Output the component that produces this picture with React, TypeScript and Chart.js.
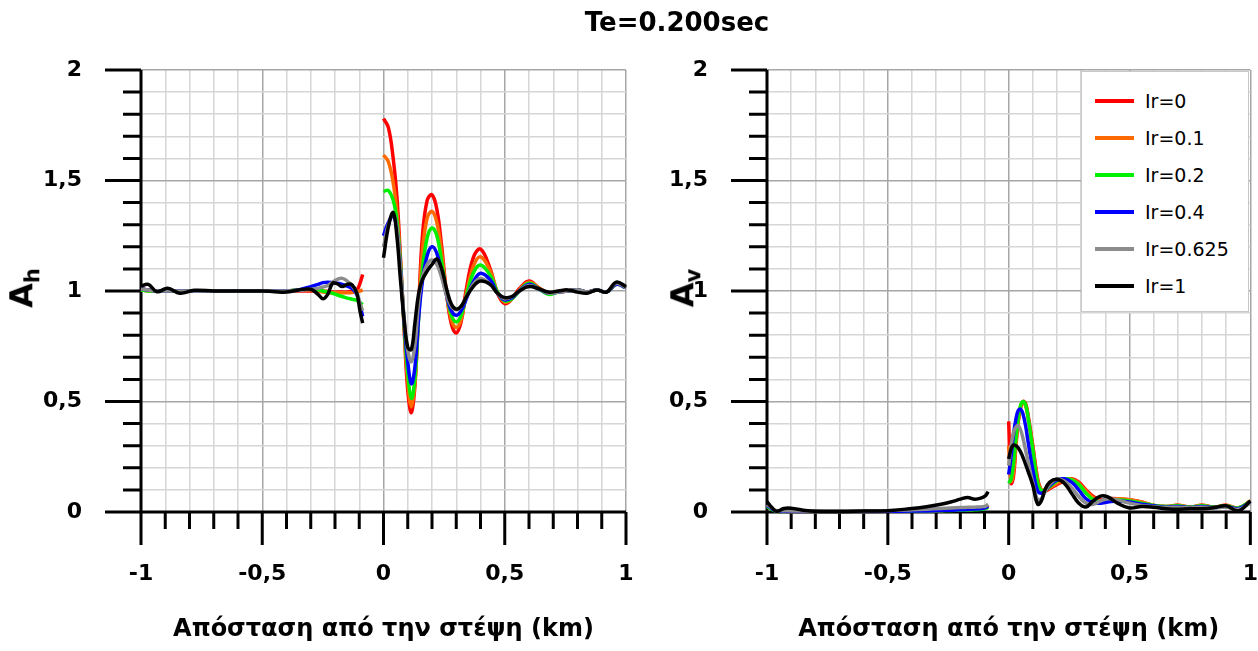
import React, { useEffect, useRef } from 'react';
import { Chart, registerables } from 'chart.js';
Chart.register(...registerables);

const FONT = "'DejaVu Sans', sans-serif";

const seriesLabels = ['Ir=0', 'Ir=0.1', 'Ir=0.2', 'Ir=0.4', 'Ir=0.625', 'Ir=1'];
const seriesColors = ['#ff0000', '#ff6a00', '#00f000', '#0000ff', '#8c8c8c', '#000000'];

const xTickMin = -1;
const xTickMax = 1;
const yTickMin = 0;
const yTickMax = 2;

// ---------- Left plot (Ah) ----------
const ahXNeg = [-1, -0.97, -0.935, -0.89, -0.84, -0.78, -0.7, -0.6, -0.5, -0.45, -0.4, -0.35, -0.3, -0.27, -0.25, -0.23, -0.21, -0.19, -0.17, -0.15, -0.13, -0.11, -0.097, -0.086];
const ahNegIr0 = [1.01, 1.005, 1.0, 1.0, 1.0, 1.0, 1.0, 1.0, 1.0, 1.0, 1.0, 1.0, 1.0, 1.0, 1.0, 0.998, 0.995, 0.995, 0.995, 0.995, 1.0, 1.005, 1.035, 1.075];
const ahNegIr01 = [1.005, 1.0, 1.0, 1.0, 1.0, 1.0, 1.0, 1.0, 1.0, 1.0, 1.0, 1.005, 1.005, 1.0, 0.995, 0.993, 0.992, 0.992, 0.992, 0.992, 0.993, 0.997, 1.0, 1.005];
const ahNegIr02 = [1.005, 1.0, 1.0, 1.0, 1.0, 1.0, 1.0, 1.0, 1.0, 1.0, 1.0, 1.005, 1.01, 1.005, 1.0, 0.995, 0.99, 0.982, 0.975, 0.968, 0.963, 0.958, 0.948, 0.938];
const ahNegIr04 = [1.01, 1.005, 1.0, 1.0, 1.0, 1.0, 1.0, 1.0, 1.0, 1.0, 1.0, 1.005, 1.02, 1.03, 1.038, 1.04, 1.038, 1.035, 1.03, 1.022, 1.012, 0.985, 0.935, 0.885];
const ahNegIr0625 = [1.01, 1.005, 1.0, 1.0, 1.0, 1.0, 1.0, 1.0, 1.0, 1.0, 1.0, 1.002, 1.008, 1.012, 1.018, 1.025, 1.04, 1.053, 1.057, 1.045, 1.025, 0.99, 0.945, 0.91];
const ahNegIr1 = [1.022, 1.03, 0.997, 1.012, 0.99, 1.003, 1.0, 1.0, 1.0, 0.997, 0.995, 1.005, 1.008, 0.985, 0.965, 0.985, 1.035, 1.032, 1.02, 1.03, 1.028, 0.99, 0.91, 0.855];

const ahXPos = [0, 0.02, 0.04, 0.055, 0.07, 0.085, 0.1, 0.115, 0.13, 0.145, 0.16, 0.18, 0.2, 0.22, 0.24, 0.26, 0.28, 0.3, 0.32, 0.34, 0.37, 0.4, 0.44, 0.47, 0.5, 0.53, 0.56, 0.6, 0.64, 0.68, 0.72, 0.76, 0.8, 0.84, 0.88, 0.92, 0.96, 1.0];
const ahPosIr0 = [1.78, 1.74, 1.6, 1.43, 1.15, 0.83, 0.55, 0.45, 0.58, 0.92, 1.24, 1.41, 1.435, 1.37, 1.2, 0.99, 0.85, 0.81, 0.86, 1.0, 1.15, 1.19, 1.1, 0.99, 0.943, 0.965, 1.01, 1.045, 1.015, 0.99, 0.995, 1.0, 1.005, 0.995, 1.005, 0.995, 1.035, 1.015];
const ahPosIr01 = [1.615, 1.585, 1.49, 1.36, 1.13, 0.84, 0.59, 0.475, 0.59, 0.9, 1.17, 1.33, 1.36, 1.31, 1.17, 0.99, 0.87, 0.835, 0.87, 0.98, 1.11, 1.155, 1.09, 0.995, 0.95, 0.965, 1.005, 1.04, 1.015, 0.99, 0.995, 1.0, 1.005, 0.995, 1.005, 0.995, 1.03, 1.015];
const ahPosIr02 = [1.45, 1.455, 1.41, 1.32, 1.12, 0.85, 0.63, 0.515, 0.61, 0.88, 1.09, 1.24, 1.285, 1.25, 1.13, 0.99, 0.89, 0.86, 0.89, 0.97, 1.08, 1.118, 1.07, 0.995, 0.955, 0.965, 1.0, 1.035, 1.01, 0.985, 0.995, 1.0, 1.005, 0.995, 1.005, 0.995, 1.03, 1.015];
const ahPosIr04 = [1.25, 1.31, 1.34, 1.28, 1.1, 0.86, 0.68, 0.58, 0.66, 0.88, 1.04, 1.16, 1.2, 1.17, 1.08, 0.98, 0.91, 0.89, 0.91, 0.96, 1.04, 1.08, 1.05, 0.99, 0.96, 0.97, 1.0, 1.03, 1.01, 0.99, 0.995, 1.0, 1.005, 0.995, 1.005, 0.995, 1.03, 1.015];
const ahPosIr0625 = [1.2, 1.3, 1.345, 1.29, 1.1, 0.88, 0.73, 0.68, 0.76, 0.95, 1.06, 1.12, 1.14, 1.12, 1.06, 0.98, 0.93, 0.915, 0.93, 0.97, 1.03, 1.057, 1.03, 0.99, 0.965, 0.975, 1.0, 1.025, 1.01, 0.99, 0.995, 1.0, 1.005, 0.995, 1.005, 0.995, 1.035, 1.015];
const ahPosIr1 = [1.15, 1.29, 1.355, 1.25, 1.05, 0.87, 0.745, 0.735, 0.86, 0.99, 1.05, 1.09, 1.12, 1.145, 1.1, 1.01, 0.94, 0.918, 0.93, 0.97, 1.02, 1.045, 1.03, 0.99, 0.97, 0.975, 1.0, 1.02, 1.01, 0.995, 1.0, 1.005, 0.995, 0.99, 1.005, 0.995, 1.04, 1.02];

// ---------- Right plot (Av) ----------
const avXNeg = [-1, -0.98, -0.96, -0.93, -0.9, -0.85, -0.8, -0.7, -0.6, -0.5, -0.4, -0.34, -0.28, -0.24, -0.2, -0.17, -0.14, -0.11, -0.095, -0.085];
const avNegIr0 = [0.03, 0.015, 0.004, 0.003, 0.002, 0.002, 0.002, 0.002, 0.002, 0.003, 0.004, 0.005, 0.007, 0.008, 0.01, 0.011, 0.012, 0.015, 0.02, 0.032];
const avNegIr01 = [0.028, 0.014, 0.004, 0.003, 0.002, 0.002, 0.002, 0.002, 0.002, 0.003, 0.004, 0.005, 0.007, 0.008, 0.01, 0.011, 0.012, 0.015, 0.02, 0.03];
const avNegIr02 = [0.025, 0.012, 0.003, 0.002, 0.002, 0.002, 0.002, 0.002, 0.002, 0.003, 0.004, 0.005, 0.006, 0.007, 0.008, 0.009, 0.01, 0.012, 0.016, 0.022];
const avNegIr04 = [0.03, 0.015, 0.004, 0.003, 0.002, 0.002, 0.002, 0.002, 0.002, 0.003, 0.004, 0.005, 0.007, 0.008, 0.01, 0.011, 0.013, 0.016, 0.02, 0.026];
const avNegIr0625 = [0.035, 0.018, 0.006, 0.006, 0.005, 0.004, 0.004, 0.004, 0.005, 0.006, 0.01, 0.013, 0.016, 0.018, 0.02, 0.021, 0.022, 0.024, 0.027, 0.035];
const avNegIr1 = [0.047, 0.02, 0.003, 0.016, 0.017, 0.008, 0.003, 0.002, 0.004, 0.006, 0.016, 0.024, 0.035, 0.045, 0.058, 0.066, 0.058, 0.065, 0.075, 0.092];

const avXPos = [0, 0.01, 0.02, 0.03, 0.04, 0.05, 0.06, 0.07, 0.08, 0.1, 0.12, 0.135, 0.15, 0.17, 0.2, 0.23, 0.26, 0.29, 0.32, 0.35, 0.38, 0.41, 0.45, 0.5, 0.55, 0.6, 0.65, 0.7, 0.75, 0.8, 0.85, 0.9, 0.95, 1.0];
const avPosIr0 = [0.41, 0.13, 0.16, 0.3, 0.41, 0.475, 0.5, 0.49, 0.44, 0.3, 0.15, 0.1, 0.095, 0.105, 0.125, 0.14, 0.15, 0.135, 0.1, 0.07, 0.055, 0.06, 0.06, 0.055, 0.045, 0.03, 0.025, 0.03, 0.022, 0.03, 0.022, 0.03, 0.018, 0.05];
const avPosIr01 = [0.3, 0.14, 0.18, 0.31, 0.42, 0.48, 0.495, 0.48, 0.43, 0.29, 0.14, 0.1, 0.1, 0.11, 0.13, 0.145, 0.15, 0.13, 0.095, 0.065, 0.05, 0.055, 0.06, 0.055, 0.045, 0.03, 0.025, 0.03, 0.022, 0.03, 0.022, 0.03, 0.018, 0.05];
const avPosIr02 = [0.13, 0.15, 0.22, 0.33, 0.43, 0.485, 0.5, 0.485, 0.43, 0.28, 0.13, 0.098, 0.1, 0.115, 0.14, 0.15, 0.145, 0.125, 0.085, 0.055, 0.045, 0.05, 0.055, 0.05, 0.04, 0.03, 0.025, 0.028, 0.022, 0.028, 0.022, 0.028, 0.018, 0.048];
const avPosIr04 = [0.17, 0.25, 0.35, 0.42, 0.46, 0.465, 0.44, 0.39, 0.32, 0.19, 0.095, 0.085, 0.095, 0.12, 0.145, 0.15, 0.135, 0.1, 0.06, 0.042, 0.04, 0.045, 0.05, 0.045, 0.035, 0.028, 0.022, 0.025, 0.02, 0.025, 0.02, 0.025, 0.015, 0.045];
const avPosIr0625 = [0.21, 0.3, 0.36, 0.385, 0.39, 0.37, 0.33, 0.28, 0.23, 0.13, 0.055, 0.06, 0.09, 0.125, 0.15, 0.14, 0.11, 0.07, 0.04, 0.035, 0.05, 0.06, 0.055, 0.04, 0.03, 0.025, 0.02, 0.022, 0.018, 0.022, 0.018, 0.022, 0.012, 0.04];
const avPosIr1 = [0.24, 0.285, 0.303, 0.3, 0.29, 0.27, 0.245, 0.215, 0.185, 0.12, 0.035, 0.05, 0.1, 0.135, 0.148, 0.13, 0.085, 0.04, 0.023, 0.05, 0.072, 0.068, 0.04, 0.018, 0.025, 0.022, 0.015, 0.012, 0.015, 0.015, 0.02, 0.028, 0.005, 0.05];

const ahNeg = [ahNegIr0, ahNegIr01, ahNegIr02, ahNegIr04, ahNegIr0625, ahNegIr1];
const ahPos = [ahPosIr0, ahPosIr01, ahPosIr02, ahPosIr04, ahPosIr0625, ahPosIr1];
const avNeg = [avNegIr0, avNegIr01, avNegIr02, avNegIr04, avNegIr0625, avNegIr1];
const avPos = [avPosIr0, avPosIr01, avPosIr02, avPosIr04, avPosIr0625, avPosIr1];

function buildPoints(xNeg: number[], yNeg: number[], xPos: number[], yPos: number[]) {
  return [
    ...xNeg.map((x, i) => ({ x, y: yNeg[i] })),
    { x: -0.04, y: null },
    ...xPos.map((x, i) => ({ x, y: yPos[i] })),
  ];
}

const isMajor = (v: number) => Math.abs(v * 2 - Math.round(v * 2)) < 1e-6;
const fmt = (v: number) => {
  const r = Math.round(v * 10) / 10;
  return String(r).replace('.', ',');
};

const axisPlugin = {
  id: 'axisMarks',
  beforeDatasetsDraw(chart: any) {
    const { ctx } = chart;
    const xs = chart.scales.x;
    const ys = chart.scales.y;
    const bottom = ys.getPixelForValue(yTickMin);
    const top = ys.getPixelForValue(yTickMax);
    const left = xs.getPixelForValue(xTickMin);
    const right = xs.getPixelForValue(xTickMax);
    ctx.save();
    ctx.strokeStyle = '#000';
    ctx.lineWidth = 3;
    ctx.lineCap = 'butt';
    ctx.beginPath();
    for (let i = 0; i <= 20; i++) {
      const v = xTickMin + i * 0.1;
      const px = xs.getPixelForValue(v);
      ctx.moveTo(px, bottom);
      ctx.lineTo(px, bottom + (i % 5 === 0 ? 33 : 17));
    }
    for (let i = 0; i <= 20; i++) {
      const v = yTickMin + i * 0.1;
      const py = ys.getPixelForValue(v);
      ctx.moveTo(left, py);
      ctx.lineTo(left - (i % 5 === 0 ? 36 : 18), py);
    }
    ctx.stroke();
    ctx.beginPath();
    ctx.moveTo(left, top);
    ctx.lineTo(left, bottom);
    ctx.lineTo(right, bottom);
    ctx.stroke();
    ctx.restore();
  },
};

function makeConfig(neg: number[][], pos: number[][], xNeg: number[], xPos: number[], yAxisWidth: number, padRight: number) {
  const gridColor = (c: any) => (c.tick && isMajor(c.tick.value) ? '#a6a6a6' : '#d6d6d6');
  return {
    type: 'line',
    data: {
      datasets: seriesLabels.map((label, k) => ({
        label,
        data: buildPoints(xNeg, neg[k], xPos, pos[k]),
        borderColor: seriesColors[k],
        backgroundColor: seriesColors[k],
        borderWidth: 3.5,
        pointRadius: 0,
        tension: 0.4,
        spanGaps: false,
        fill: false,
        clip: 8,
        order: seriesLabels.length - 1 - k,
      })),
    },
    options: {
      animation: false,
      responsive: false,
      devicePixelRatio: 1,
      layout: { padding: { top: 70, right: padRight, left: 0, bottom: 0 } },
      plugins: { legend: { display: false }, tooltip: { enabled: false } },
      scales: {
        x: {
          type: 'linear',
          min: xTickMin,
          max: xTickMax,
          afterFit: (s: any) => { s.height = 139; },
          ticks: {
            stepSize: 0.1,
            autoSkip: false,
            maxRotation: 0,
            padding: 0,
            color: '#000',
            font: { family: FONT, size: 22, weight: 'bold' },
            callback: (v: number) => (isMajor(v) ? fmt(v) : ''),
          },
          grid: { color: gridColor, lineWidth: 1.5, drawTicks: true, tickLength: 49, tickColor: 'rgba(0,0,0,0)' },
          border: { display: false },
          title: {
            display: true,
            text: 'Απόσταση από την στέψη (km)',
            color: '#000',
            font: { family: FONT, size: 24, weight: 'bold' },
            padding: { top: 0, bottom: 7 },
          },
        },
        y: {
          type: 'linear',
          min: yTickMin,
          max: yTickMax,
          afterFit: (s: any) => { s.width = yAxisWidth; },
          ticks: {
            stepSize: 0.1,
            autoSkip: false,
            padding: 0,
            color: '#000',
            font: { family: FONT, size: 22, weight: 'bold' },
            callback: (v: number) => (isMajor(v) ? fmt(v) : ''),
          },
          grid: { color: gridColor, lineWidth: 1.5, drawTicks: true, tickLength: 59, tickColor: 'rgba(0,0,0,0)' },
          border: { display: false },
        },
      },
    },
    plugins: [axisPlugin],
  };
}

function ChartCanvas({ config, left, width }: { config: any; left: number; width: number }) {
  const ref = useRef<HTMLCanvasElement>(null);
  useEffect(() => {
    if (!ref.current) return;
    const chart = new Chart(ref.current, config);
    return () => chart.destroy();
  }, [config]);
  return (
    <canvas
      ref={ref}
      width={width}
      height={651}
      style={{ position: 'absolute', left, top: 0, width, height: 651 }}
    />
  );
}

const leftConfig = makeConfig(ahNeg, ahPos, ahXNeg, ahXPos, 141, 14);
const rightConfig = makeConfig(avNeg, avPos, avXNeg, avXPos, 127, 7);

export default function App() {
  return (
    <div style={{ position: 'absolute', left: 0, top: 0, width: 1258, height: 651, background: '#fff', overflow: 'hidden', fontFamily: FONT }}>
      <ChartCanvas config={leftConfig} left={0} width={640} />
      <ChartCanvas config={rightConfig} left={640} width={618} />
      <div style={{ position: 'absolute', left: 377, width: 600, top: 6, textAlign: 'center', font: `bold 26px ${FONT}`, lineHeight: '32px', color: '#000' }}>
        Te=0.200sec
      </div>
      <div style={{ position: 'absolute', left: 27, top: 288, transform: 'translate(-50%,-50%) rotate(-90deg)', font: `bold 32px ${FONT}`, lineHeight: '36px', whiteSpace: 'nowrap', color: '#000' }}>
        A<sub style={{ fontSize: 21 }}>h</sub>
      </div>
      <div style={{ position: 'absolute', left: 688, top: 288, transform: 'translate(-50%,-50%) rotate(-90deg)', font: `bold 32px ${FONT}`, lineHeight: '36px', whiteSpace: 'nowrap', color: '#000' }}>
        A<sub style={{ fontSize: 21 }}>v</sub>
      </div>
      <div style={{ position: 'absolute', left: 1081, top: 71, width: 168, height: 241, border: '1px solid #c8c8c8', background: '#fff', boxSizing: 'border-box' }}>
        {seriesLabels.map((l, k) => (
          <div key={l} style={{ position: 'absolute', left: 0, top: 29 + k * 37 - 12, height: 24, width: 166 }}>
            <div style={{ position: 'absolute', left: 13, top: 10, width: 39, height: 4, background: seriesColors[k] }} />
            <div style={{ position: 'absolute', left: 63, top: 0, font: `19px ${FONT}`, lineHeight: '24px', color: '#000', whiteSpace: 'nowrap' }}>{l}</div>
          </div>
        ))}
      </div>
    </div>
  );
}
